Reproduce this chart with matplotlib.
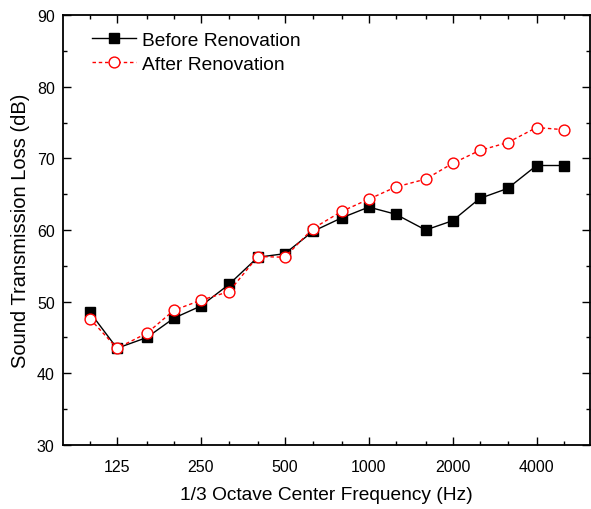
import matplotlib
matplotlib.use("Agg")
import matplotlib.pyplot as plt
from matplotlib.ticker import FixedLocator, NullFormatter, FixedFormatter, MultipleLocator

plt.rcParams['font.family'] = ['Liberation Sans', 'DejaVu Sans']

freqs = [100, 125, 160, 200, 250, 315, 400, 500, 630, 800, 1000, 1250, 1600, 2000, 2500, 3150, 4000, 5000]
before = [48.5, 43.5, 45.0, 47.7, 49.4, 52.4, 56.2, 56.7, 59.8, 61.7, 63.2, 62.2, 60.0, 61.3, 64.4, 65.8, 69.0, 69.0]
after = [47.6, 43.5, 45.6, 48.8, 50.2, 51.4, 56.3, 56.2, 60.2, 62.6, 64.3, 66.0, 67.1, 69.3, 71.1, 72.2, 74.3, 74.0]
major_ticks = [125, 250, 500, 1000, 2000, 4000]
major_labels = ['125', '250', '500', '1000', '2000', '4000']

fig = plt.figure(figsize=(5.91, 5.10), dpi=100)
ax = fig.add_axes([0.1066, 0.1255, 0.8917, 0.8431])

ax.plot(freqs, before, color='black', lw=1.0, marker='s', ms=6.8,
        mfc='black', mec='black', label='Before Renovation')
ax.plot(freqs, after, color='red', lw=1.0, ls=(0, (2.5, 2)), marker='o', ms=7.8,
        mfc='white', mec='red', mew=1.0, label='After Renovation')

ax.set_xscale('log', base=2)
ax.set_xlim(80, 6220)
ax.set_ylim(30, 90)
ax.xaxis.set_major_locator(FixedLocator(major_ticks))
ax.xaxis.set_major_formatter(FixedFormatter(major_labels))
ax.xaxis.set_minor_locator(FixedLocator(freqs))
ax.xaxis.set_minor_formatter(NullFormatter())
ax.yaxis.set_major_locator(MultipleLocator(10))
ax.yaxis.set_minor_locator(MultipleLocator(5))

ax.tick_params(which='both', direction='in', top=True, right=True, labelsize=11.5, width=1.0)
ax.tick_params(which='major', length=6)
ax.tick_params(which='minor', length=3)
ax.tick_params(axis='x', which='major', pad=10)
ax.tick_params(axis='y', which='major', pad=6)
for s in ax.spines.values():
    s.set_linewidth(1.3)

ax.set_xlabel('1/3 Octave Center Frequency (Hz)', fontsize=13.8, labelpad=9)
ax.set_ylabel('Sound Transmission Loss (dB)', fontsize=14.5, labelpad=5)

leg = ax.legend(loc='upper left', bbox_to_anchor=(0.055, 0.962), frameon=False,
                fontsize=13.8, handlelength=2.3, handletextpad=0.3, labelspacing=0.33,
                borderaxespad=0.0, borderpad=0.0)

fig.savefig('out.png', dpi=100)
